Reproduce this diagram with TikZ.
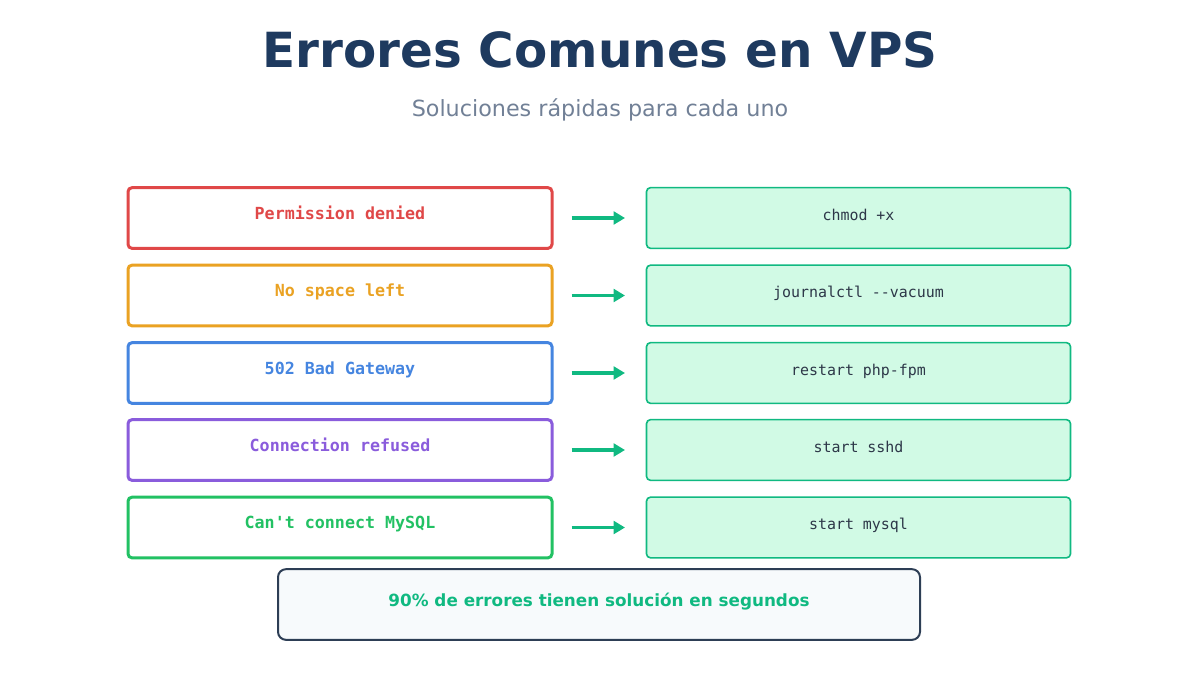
\documentclass[tikz,border=0pt]{standalone}
\usepackage{fontspec}
\setmainfont{DejaVu Sans}
\newfontfamily\monofont{DejaVu Sans Mono}
\usetikzlibrary{arrows.meta}
\definecolor{titlec}{HTML}{1E3A5F}
\definecolor{subc}{HTML}{718096}
\definecolor{cred}{HTML}{E04848}
\definecolor{corange}{HTML}{EAA223}
\definecolor{cblue}{HTML}{4585E0}
\definecolor{cpurple}{HTML}{8A5CDC}
\definecolor{cgreen}{HTML}{22C163}
\definecolor{solfill}{HTML}{D1FAE5}
\definecolor{solline}{HTML}{10B981}
\definecolor{soltext}{HTML}{2D3748}
\definecolor{botfill}{HTML}{F7FAFC}
\definecolor{botline}{HTML}{2D3E55}
\begin{document}
\begin{tikzpicture}[x=0.75pt,y=-0.75pt,
  errbox/.style={draw=#1, line width=2.25pt, rounded corners=3pt, minimum width=318pt, minimum height=45.5pt, inner sep=0pt, fill=white},
  soltbox/.style={draw=solline, fill=solfill, line width=1.2pt, rounded corners=3pt, minimum width=318pt, minimum height=45.5pt, inner sep=0pt},
  errtxt/.style={text=#1, font=\monofont\bfseries\fontsize{12.5pt}{14pt}\selectfont, inner sep=0pt},
  soltxt/.style={text=soltext, font=\monofont\fontsize{11.2pt}{13pt}\selectfont, inner sep=0pt},
  conn/.style={draw=solline, line width=2.4pt, -{Triangle[length=8.5pt,width=9.5pt]}, shorten <=13.5pt, shorten >=15.5pt}
]
\useasboundingbox (0,0) rectangle (1200,675);
\node[anchor=base, text=titlec, font=\bfseries\fontsize{36.3pt}{40pt}\selectfont, inner sep=0pt] (title) at (600,67) {Errores Comunes en VPS};
\node[anchor=base, text=subc, font=\fontsize{16.7pt}{19pt}\selectfont, inner sep=0pt] (sub) at (600,116.5) {Soluciones rápidas para cada uno};

\foreach \i/\yy/\col/\err/\sol in {
  1/218/cred/{Permission denied}/{chmod +x},
  2/295.5/corange/{No space left}/{journalctl -{}-vacuum},
  3/373/cblue/{502 Bad Gateway}/{restart php-fpm},
  4/450/cpurple/{Connection refused}/{start sshd},
  5/527.5/cgreen/{Can't connect MySQL}/{start mysql}} {
  \node[errbox=\col] (e\i) at (340,\yy) {};
  \node[soltbox] (s\i) at (858.5,\yy) {};
  \node[errtxt=\col] (et\i) at ([yshift=1.7pt]e\i.center) {\strut\err};
  \node[soltxt] (st\i) at ([yshift=1.0pt]s\i.center) {\strut\sol};
  \draw[conn] (e\i.east) -- (s\i.west);
}

\node[draw=botline, fill=botfill, line width=1.5pt, rounded corners=6pt, minimum width=481.5pt, minimum height=53pt, inner sep=0pt] (bot) at (599,604.5) {};
\node[text=solline, font=\bfseries\fontsize{12.6pt}{14pt}\selectfont, inner sep=0pt] (bott) at ([yshift=1.2pt]bot.center) {\strut 90\% de errores tienen solución en segundos};
\end{tikzpicture}
\end{document}
